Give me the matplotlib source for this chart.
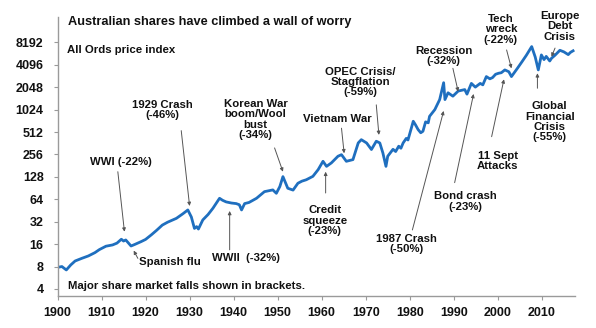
import matplotlib.pyplot as plt
from matplotlib.ticker import FixedLocator, FixedFormatter

plt.rcParams['font.family'] = ['Liberation Sans', 'DejaVu Sans']
plt.rcParams['font.weight'] = 'bold'

# All Ords price index (log scale), read as year / level pairs
years = [1900.0, 1901.0, 1902.0, 1903.0, 1904.0, 1905.5, 1907.0, 1908.5, 1909.5,
         1911.0, 1912.5, 1913.5, 1914.5, 1915.0, 1915.5, 1916.7, 1917.5, 1919.0,
         1920.0, 1921.3, 1922.5, 1923.8, 1925.0, 1927.0, 1928.5, 1929.6, 1930.4,
         1931.1, 1931.6, 1932.0, 1933.0, 1934.2, 1935.3, 1936.8, 1937.5, 1938.3,
         1939.5, 1940.6, 1941.3, 1941.8, 1942.5, 1943.5, 1945.2, 1947.0, 1948.9,
         1949.7, 1950.5, 1951.2, 1952.3, 1953.5, 1954.6, 1955.5, 1956.5, 1958.0,
         1959.2, 1960.3, 1961.1, 1962.2, 1963.7, 1964.5, 1965.6, 1967.1, 1968.3,
         1969.0, 1970.2, 1971.3, 1972.4, 1973.2, 1973.9, 1974.6, 1975.0, 1976.2,
         1976.8, 1977.5, 1978.0, 1978.5, 1979.2, 1979.6, 1980.3, 1980.8, 1981.3,
         1981.9, 1982.5, 1983.0, 1983.6, 1984.2, 1984.5, 1985.7, 1986.8,
         1987.7, 1988.0, 1988.7, 1989.8, 1991.0, 1992.5, 1993.0, 1994.0, 1994.9,
         1996.0, 1996.6, 1997.4, 1998.2, 1998.8, 1999.5, 2000.2, 2000.8, 2001.6,
         2002.5, 2003.1, 2004.5, 2005.5,
         2006.5, 2007.7, 2008.5, 2009.2, 2009.9, 2010.5, 2011.0, 2011.8, 2012.2,
         2013.0, 2014.1, 2015.0, 2016.0, 2016.5, 2017.1]
index_level = [7.8, 8.0, 7.2, 8.4, 9.5, 10.3, 11.1, 12.3, 13.5,
               15.0, 15.6, 16.5, 18.6, 17.6, 18.2, 15.1, 15.8, 17.3,
               18.5, 21.3, 24.5, 28.8, 31.5, 35.5, 41, 46, 37,
               26, 27.5, 25.5, 33.8, 40, 48.5, 66, 62, 59,
               57, 56, 54, 46, 56, 58, 66, 81, 85.5,
               77, 95, 129, 90, 85, 105, 112, 117, 130,
               160, 207, 177, 197, 242, 254, 207, 218, 365,
               404, 365, 298, 385, 365, 268, 177, 242, 300,
               280, 330, 310, 365, 420, 400, 560, 714, 640,
               552, 500, 524, 700, 680, 831, 1024, 1395,
               2350, 1395, 1720, 1550, 1815, 1900, 1650, 2300, 2050,
               2300, 2200, 2840, 2650, 2750, 3050, 3150, 3200, 3490,
               3300, 2840, 3700, 4500,
               5500, 7180, 5200, 3490, 5550, 4800, 5300, 4600, 5000,
               5500, 6400, 6100, 5600, 6000, 6300]

y_ticks = [4, 8, 16, 32, 64, 128, 256, 512, 1024, 2048, 4096, 8192]
x_ticks = [1900, 1910, 1920, 1930, 1940, 1950, 1960, 1970, 1980, 1990, 2000, 2010]

# label text, text centre (year, level), arrow tail, arrow tip
events = [
    ("WWI (-22%)", (1914.4, 203), (1913.7, 150), (1915.2, 23.5)),
    ("1929 Crash\n(-46%)", (1923.9, 1003), (1928.1, 534), (1930.0, 52)),
    ("Korean War\nboom/Wool\nbust\n(-34%)", (1945.0, 755), (1949.3, 313), (1951.2, 150)),
    ("WWII  (-32%)", (1942.9, 10.4), (1939.1, 13.4), (1939.1, 44.6)),
    ("Credit\nsqueeze\n(-23%)", (1960.7, 33.1), (1960.9, 77.7), (1960.9, 150)),
    ("Vietnam War", (1963.5, 760), (1964.5, 576), (1965.1, 265)),
    ("OPEC Crisis/\nStagflation\n(-59%)", (1968.75, 2400), (1972.4, 1185), (1973.0, 468)),
    ("1987 Crash\n(-50%)", (1979.3, 16.2), (1980.6, 24.8), (1987.7, 982)),
    ("Recession\n(-32%)", (1987.7, 5330), (1989.8, 3670), (1991.0, 1785)),
    ("Bond crash\n(-23%)", (1992.7, 60), (1990.2, 107), (1994.5, 1660)),
    ("11 Sept\nAttacks", (2000.0, 208), (1998.6, 443), (2001.4, 2610)),
    ("Tech\nwreck\n(-22%)", (2000.7, 12240), (2002.0, 6470), (2003.1, 3660)),
    ("Europe\nDebt\nCrisis", (2014.1, 13500), (2013.0, 6850), (2012.2, 5250)),
    ("Global\nFinancial\nCrisis\n(-55%)", (2011.8, 704), (2009.0, 1980), (2009.0, 3150)),
]

fig = plt.figure(figsize=(5.96, 3.28), dpi=100)
ax = fig.add_axes([0.0965, 0.0976, 0.868, 0.851])

ax.plot(years, index_level, color='#1f6fbf', lw=2.0, solid_joinstyle='round')

ax.set_yscale('log', base=2)
ax.set_ylim(3.22, 17990)
ax.set_xlim(1900, 2017.5)
ax.yaxis.set_major_locator(FixedLocator(y_ticks))
ax.yaxis.set_major_formatter(FixedFormatter([str(v) for v in y_ticks]))
ax.yaxis.set_minor_locator(FixedLocator([]))
ax.set_xticks(x_ticks)
ax.set_xticklabels([str(v) for v in x_ticks])

for side in ['top', 'right']:
    ax.spines[side].set_visible(False)
for side in ['left', 'bottom']:
    ax.spines[side].set_color('#9a9a9a')
    ax.spines[side].set_linewidth(1.0)
ax.tick_params(axis='y', length=3, width=0.8, color='#9a9a9a', pad=7,
               labelsize=9, labelcolor='#111111')
ax.tick_params(axis='x', length=3, width=0.8, color='#9a9a9a', pad=5,
               labelsize=9, labelcolor='#111111')
for lab in ax.get_xticklabels() + ax.get_yticklabels():
    lab.set_fontweight('bold')

ax.text(0.020, 0.982, "Australian shares have climbed a wall of worry",
        transform=ax.transAxes, fontsize=9.2, fontweight='bold',
        color='#111111', ha='left', va='center')
ax.text(0.018, 0.882, "All Ords price index", transform=ax.transAxes,
        fontsize=8.2, fontweight='bold', color='#111111', ha='left', va='center')
ax.text(0.020, 0.036, "Major share market falls shown in brackets.",
        transform=ax.transAxes, fontsize=8.2, fontweight='bold',
        color='#111111', ha='left', va='center')

arrow_style = dict(arrowstyle='-|>', color='#555555', lw=0.7,
                   mutation_scale=5, shrinkA=0, shrinkB=0)

for label, txt, tail, tip in events:
    ax.text(txt[0], txt[1], label, fontsize=8.2, fontweight='bold',
            color='#111111', ha='center', va='center', linespacing=1.05)
    ax.annotate('', xy=tip, xytext=tail, arrowprops=arrow_style)

# Spanish flu label sits to the right of its short arrow
ax.text(1918.6, 9.3, "Spanish flu", fontsize=8.2, fontweight='bold',
        color='#111111', ha='left', va='center')
ax.annotate('', xy=(1917.3, 13.1), xytext=(1918.25, 10.3), arrowprops=arrow_style)

fig.savefig('out.png', dpi=100)
